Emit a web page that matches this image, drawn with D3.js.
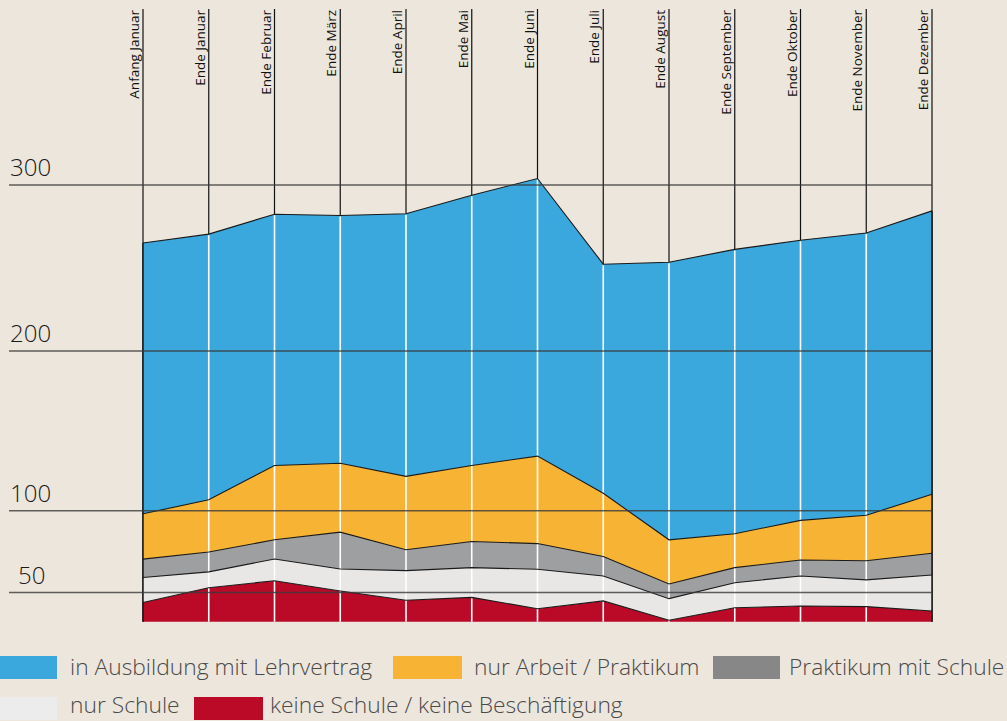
<!DOCTYPE html>
<html>
<head>
<meta charset="utf-8">
<script src="https://cdn.jsdelivr.net/npm/d3@7"></script>
<style>
  body { margin: 0; background: #ede6dc; }
  svg { display: block; font-family: "Open Sans", "Noto Sans", sans-serif; }
</style>
</head>
<body>
<div id="chart"></div>
<script>
// month columns
var months = ["Anfang Januar", "Ende Januar", "Ende Februar", "Ende März", "Ende April",
  "Ende Mai", "Ende Juni", "Ende Juli", "Ende August", "Ende September",
  "Ende Oktober", "Ende November", "Ende Dezember"];

// series, bottom to top of the stack
var keineSchule     = [11.8, 20.9, 25.2, 18.9, 13.2, 15.0, 8.0, 12.8, 0.9, 8.6, 9.7, 9.3, 6.6];
var nurSchule       = [15.4, 9.7, 13.3, 13.5, 18.2, 18.2, 24.2, 15.3, 13.3, 15.4, 18.4, 16.4, 22.1];
var praktikumSchule = [11.2, 12.2, 11.7, 22.5, 12.7, 16.0, 15.7, 11.9, 9.0, 9.2, 9.8, 11.7, 13.3];
var nurArbeit       = [27.7, 32.0, 46.1, 42.8, 45.4, 47.1, 54.3, 38.9, 27.0, 20.7, 24.2, 27.8, 36.3];
var ausbildung      = [167.0, 163.6, 154.1, 151.9, 161.2, 165.5, 169.7, 141.4, 171.3, 175.3, 172.6, 173.9, 174.1];

var yTicks = [300, 200, 100, 50];
var baseline = 32; // the stack does not start at 0 in the original

var series = [
  {key: "keine", label: "keine Schule / keine Beschäftigung", values: keineSchule, fill: "#bb0a28", swatch: "#bb0a28"},
  {key: "schule", label: "nur Schule", values: nurSchule, fill: "#e8e7e6", swatch: "#ececec"},
  {key: "praktikum", label: "Praktikum mit Schule", values: praktikumSchule, fill: "#9e9fa1", swatch: "#878787"},
  {key: "arbeit", label: "nur Arbeit / Praktikum", values: nurArbeit, fill: "#f7b334", swatch: "#f7b334"},
  {key: "ausbildung", label: "in Ausbildung mit Lehrvertrag", values: ausbildung, fill: "#3aa8dc", swatch: "#3aa8dc"}
];

var W = 1007, H = 721;
var svg = d3.select("#chart").append("svg")
    .attr("width", W)
    .attr("height", H);

svg.append("rect").attr("width", W).attr("height", H).attr("fill", "#ede6dc");

var x = d3.scalePoint().domain(months).range([143, 932]);
// the original axis is not quite even, so the scale is piecewise
var y = d3.scaleLinear().domain([0, 50, 100, 200, 300]).range([673.5, 592.5, 510.7, 351, 185]);

var rows = months.map(function(m, i) {
  var r = {month: m};
  series.forEach(function(s) { r[s.key] = s.values[i]; });
  return r;
});
var stacked = d3.stack().keys(series.map(function(s) { return s.key; }))(rows);
var topLayer = stacked[stacked.length - 1];
var bottomY = y(baseline);

// black column lines above the areas
svg.append("g").selectAll("line")
    .data(months)
  .enter().append("line")
    .attr("x1", function(d) { return x(d); })
    .attr("x2", function(d) { return x(d); })
    .attr("y1", 9)
    .attr("y2", function(d, i) {
      return (i == 0 || i == months.length - 1) ? bottomY : y(topLayer[i][1] + baseline);
    })
    .attr("stroke", "#111")
    .attr("stroke-width", 1.2);

var area = d3.area()
    .x(function(d) { return x(d.data.month); })
    .y0(function(d) { return y(d[0] + baseline); })
    .y1(function(d) { return y(d[1] + baseline); });

var topLine = d3.line()
    .x(function(d) { return x(d.data.month); })
    .y(function(d) { return y(d[1] + baseline); });

svg.append("g").selectAll("path")
    .data(stacked)
  .enter().append("path")
    .attr("fill", function(d, i) { return series[i].fill; })
    .attr("d", area);

// white column lines inside the areas
svg.append("g").selectAll("line")
    .data(months.slice(1, -1))
  .enter().append("line")
    .attr("x1", function(d) { return x(d); })
    .attr("x2", function(d) { return x(d); })
    .attr("y1", function(d) { return y(topLayer[months.indexOf(d)][1] + baseline) + 1; })
    .attr("y2", bottomY)
    .attr("stroke", "#fff")
    .attr("stroke-width", 1.6);

svg.append("g").selectAll("path")
    .data(stacked)
  .enter().append("path")
    .attr("fill", "none")
    .attr("stroke", "#1a1a1a")
    .attr("stroke-width", 1.1)
    .attr("d", topLine);

// edge lines
svg.append("g").selectAll("line")
    .data([months[0], months[months.length - 1]])
  .enter().append("line")
    .attr("x1", function(d) { return x(d); })
    .attr("x2", function(d) { return x(d); })
    .attr("y1", function(d) { return y(topLayer[months.indexOf(d)][1] + baseline); })
    .attr("y2", bottomY)
    .attr("stroke", "#111")
    .attr("stroke-width", 1.4);

// horizontal grid
var grid = svg.append("g");
grid.selectAll("line")
    .data(yTicks)
  .enter().append("line")
    .attr("x1", 9)
    .attr("x2", 932)
    .attr("y1", function(d) { return y(d); })
    .attr("y2", function(d) { return y(d); })
    .attr("stroke", "#3a3a3a")
    .attr("stroke-opacity", 0.8)
    .attr("stroke-width", 1.5);

grid.selectAll("text")
    .data(yTicks)
  .enter().append("text")
    .attr("x", function(d) { return d < 100 ? 18 : 10; })
    .attr("y", function(d) { return y(d) - 9; })
    .attr("font-size", 24)
    .attr("font-weight", 300)
    .attr("fill", "#1a1a1a")
    .text(function(d) { return d; });

// month labels
svg.append("g").selectAll("text")
    .data(months)
  .enter().append("text")
    .attr("transform", function(d) { return "translate(" + (x(d) - 4) + ",10) rotate(-90)"; })
    .attr("text-anchor", "end")
    .attr("font-size", 13.5)
    .attr("fill", "#111")
    .text(function(d) { return d; });

// legend
var legendOrder = [4, 3, 2, 1, 0];
var legendPos = [
  {sx: 0, sw: 57, tx: 70, row: 0},
  {sx: 393, sw: 69, tx: 474, row: 0},
  {sx: 713, sw: 67, tx: 789, row: 0},
  {sx: 0, sw: 57, tx: 70, row: 1},
  {sx: 194, sw: 69, tx: 270, row: 1}
];
var leg = svg.append("g").selectAll("g")
    .data(legendOrder)
  .enter().append("g")
    .attr("transform", function(d, i) { return "translate(0," + (legendPos[i].row ? 697 : 656) + ")"; });
leg.append("rect")
    .attr("x", function(d, i) { return legendPos[i].sx; })
    .attr("width", function(d, i) { return legendPos[i].sw; })
    .attr("height", 23)
    .attr("fill", function(d) { return series[d].swatch; });
leg.append("text")
    .attr("x", function(d, i) { return legendPos[i].tx; })
    .attr("y", function(d, i) { return legendPos[i].row ? 16 : 19; })
    .attr("font-size", 22.8)
    .attr("font-weight", 300)
    .attr("fill", "#4a4a4a")
    .text(function(d) { return series[d].label; });
</script>
</body>
</html>
